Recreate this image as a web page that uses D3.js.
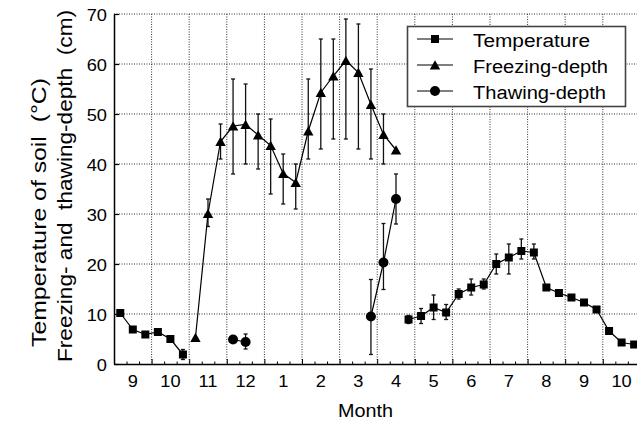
<!DOCTYPE html>
<html>
<head>
<meta charset="utf-8">
<script src="https://cdn.jsdelivr.net/npm/d3@7"></script>
<style>
  body { margin: 0; background: #fff; }
  svg { display: block; font-family: "Liberation Sans", Arial, sans-serif; }
</style>
</head>
<body>
<svg id="chart" width="637" height="421"></svg>
<script>
// month labels, starting in September (3 dekads per month)
const months = ["9", "10", "11", "12", "1", "2", "3", "4", "5", "6", "7", "8", "9", "10"];
const yTicks = [0, 10, 20, 30, 40, 50, 60, 70];

// soil temperature (°C), dekad index from 1st dekad of Sept
const tempDekad = [0, 1, 2, 3, 4, 5, 23, 24, 25, 26, 27, 28, 29, 30, 31, 32, 33, 34, 35, 36, 37, 38, 39, 40, 41];
const tempValue = [10.2, 6.9, 5.9, 6.4, 5.0, 1.9, 8.9, 9.6, 11.3, 10.3, 14.0, 15.3, 15.9, 20.0, 21.3, 22.6, 22.3, 15.3, 14.2, 13.3, 12.3, 10.9, 6.6, 4.3, 3.9];
const tempLow = [null, null, null, null, null, 0.9, 8.1, 8.1, 8.9, 8.9, 13, 13.8, 15, 18, 18, 21, 21, null, null, null, null, null, null, null, null];
const tempHigh = [null, null, null, null, null, 2.9, 9.7, 11.1, 13.8, 11.9, 15, 17, 17, 22, 24, 25, 24, null, null, null, null, null, null, null, null];

// freezing depth (cm)
const freezeDekad = [6, 7, 8, 9, 10, 11, 12, 13, 14, 15, 16, 17, 18, 19, 20, 21, 22];
const freezeValue = [5.3, 30.1, 44.5, 47.6, 47.9, 45.8, 43.7, 38.1, 36.3, 46.6, 54.3, 57.6, 60.7, 58.3, 51.9, 45.9, 42.8];
const freezeLow = [null, 27.5, 41, 38, 40, 39, 34, 32, 31, 41, 43, 45, 45, 43, 41, 40, null];
const freezeHigh = [null, 33, 48, 57, 56, 50, 49, 42, 40, 57, 65, 65, 69, 68, 59, 50, null];

// thawing depth (cm)
const thawDekad = [9, 10, 20, 21, 22];
const thawValue = [4.9, 4.4, 9.5, 20.3, 33];
const thawLow = [null, 3, 1.9, 14.9, 28];
const thawHigh = [null, 6, 16.9, 28.1, 38];

const svg = d3.select('#chart');
const W = 637, H = 421;
const plotLeft = 114, plotTop = 14, plotBottom = 364;
const monthW = 37.6;

svg.append('rect').attr('width', W).attr('height', H).attr('fill', '#fff');

const x = d3.scaleLinear().domain([0, months.length * 3]).range([plotLeft, plotLeft + months.length * monthW]);
const y = d3.scaleLinear().domain([0, 70]).range([plotBottom, plotTop]);
const band = d3.scaleBand().domain(d3.range(months.length)).range(x.range());

// grid
const grid = svg.append('g').attr('stroke', '#333').attr('stroke-width', 1).attr('stroke-dasharray', '1,1.5');
grid.selectAll('.vg')
    .data(d3.range(1, months.length + 1))
    .join('line')
    .attr('x1', (m) => x(m * 3)).attr('x2', (m) => x(m * 3))
    .attr('y1', plotTop).attr('y2', plotBottom);
grid.selectAll('.hg')
    .data(yTicks.slice(1))
    .join('line')
    .attr('x1', plotLeft).attr('x2', W)
    .attr('y1', (v) => y(v)).attr('y2', (v) => y(v));

const series = [
    { name: 'Temperature', dekad: tempDekad, value: tempValue, low: tempLow, high: tempHigh, symbol: 'square' },
    { name: 'Freezing-depth', dekad: freezeDekad, value: freezeValue, low: freezeLow, high: freezeHigh, symbol: 'triangle' },
    { name: 'Thawing-depth', dekad: thawDekad, value: thawValue, low: thawLow, high: thawHigh, symbol: 'circle' }
];

const toPoints = (s) => s.dekad.map((d, i) => ({ d, v: s.value[i], lo: s.low[i], hi: s.high[i] }));

// split into runs of consecutive dekads so gaps are not joined
const runs = (pts) => {
    const out = [];
    let cur = [];
    pts.forEach((p, i) => {
        if (i > 0 && p.d - pts[i - 1].d > 1) { out.push(cur); cur = []; }
        cur.push(p);
    });
    out.push(cur);
    return out;
};

const px = (p) => x(p.d + 0.5);

function drawMarker(g, kind, cx, cy) {
    if (kind === 'square') {
        g.append('rect').attr('x', cx - 4).attr('y', cy - 4).attr('width', 8).attr('height', 8).attr('fill', '#000');
    } else if (kind === 'triangle') {
        g.append('path').attr('d', `M${cx},${cy - 4.8}L${cx + 5.2},${cy + 4.4}L${cx - 5.2},${cy + 4.4}Z`).attr('fill', '#000');
    } else {
        g.append('circle').attr('cx', cx).attr('cy', cy).attr('r', 5).attr('fill', '#000');
    }
}

const line = d3.line().x(px).y((p) => y(p.v));
const plot = svg.append('g');

series.forEach((s) => {
    const pts = toPoints(s);

    // error bars
    const eb = plot.append('g').attr('stroke', '#111').attr('stroke-width', 1.3);
    pts.filter((p) => p.lo != null).forEach((p) => {
        const cx = px(p);
        eb.append('line').attr('x1', cx).attr('x2', cx).attr('y1', y(p.lo)).attr('y2', y(p.hi));
        eb.append('line').attr('x1', cx - 2).attr('x2', cx + 2).attr('y1', y(p.lo)).attr('y2', y(p.lo));
        eb.append('line').attr('x1', cx - 2).attr('x2', cx + 2).attr('y1', y(p.hi)).attr('y2', y(p.hi));
    });

    runs(pts).forEach((r) => {
        plot.append('path').attr('d', line(r)).attr('fill', 'none').attr('stroke', '#000').attr('stroke-width', 1.2);
    });

    const mg = plot.append('g');
    pts.forEach((p) => drawMarker(mg, s.symbol, px(p), y(p.v)));
});

// axes
const yAxis = svg.append('g')
    .attr('transform', `translate(${plotLeft},0)`)
    .call(d3.axisLeft(y).tickValues(yTicks).tickSizeInner(-5).tickSizeOuter(0).tickPadding(7));
yAxis.select('.domain').attr('stroke-width', 1.5);
yAxis.selectAll('.tick line').attr('stroke-width', 1.2);
yAxis.selectAll('text')
    .attr('x', null).attr('dy', null)
    .attr('transform', 'translate(-7,6) scale(1.14,1)')
    .attr('font-size', 16).attr('font-family', 'Liberation Sans, Arial, sans-serif').attr('fill', '#000');

const xAxis = svg.append('g')
    .attr('transform', `translate(0,${plotBottom})`)
    .call(d3.axisBottom(x).tickValues(d3.range(0, months.length * 3 + 1, 3)).tickSizeInner(-5).tickSizeOuter(0).tickFormat(''));
xAxis.select('.domain').attr('stroke-width', 1.5);
svg.append('g')
    .attr('transform', `translate(0,${plotBottom})`)
    .call(d3.axisBottom(x).tickValues(d3.range(0, months.length * 3).filter((d) => d % 3)).tickSizeInner(-2.5).tickSizeOuter(0).tickFormat(''))
    .select('.domain').remove();

const xLabels = svg.append('g').attr('font-size', 16).attr('fill', '#000');
months.forEach((m, i) => {
    xLabels.append('text')
        .attr('text-anchor', 'middle')
        .attr('transform', `translate(${band(i) + band.bandwidth() / 2},386.5) scale(1.14,1)`)
        .text(m);
});

svg.append('text')
    .attr('x', 338).attr('y', 417)
    .attr('font-size', 18.5)
    .attr('textLength', 55).attr('lengthAdjust', 'spacingAndGlyphs')
    .text('Month');

// y title, two lines
svg.append('text')
    .attr('transform', 'translate(46,347) rotate(-90)')
    .attr('font-size', 19.5)
    .attr('textLength', 269).attr('lengthAdjust', 'spacingAndGlyphs')
    .style('white-space', 'pre')
    .text('Temperature of soil  (°C)');
svg.append('text')
    .attr('transform', 'translate(72,362) rotate(-90)')
    .attr('font-size', 19.5)
    .attr('textLength', 352).attr('lengthAdjust', 'spacingAndGlyphs')
    .style('white-space', 'pre')
    .text('Freezing- and  thawing-depth  (cm)');

// legend
const lg = svg.append('g');
lg.append('rect')
    .attr('x', 407.5).attr('y', 26.5).attr('width', 218).attr('height', 80)
    .attr('fill', '#fff').attr('stroke', '#444').attr('stroke-width', 1.6);
const legLen = [117, 135, 133];
series.forEach((s, i) => {
    const cy = 39 + i * 26;
    lg.append('line').attr('x1', 417).attr('x2', 453).attr('y1', cy).attr('y2', cy).attr('stroke', '#000').attr('stroke-width', 1.2);
    drawMarker(lg, s.symbol, 435, cy);
    lg.append('text')
        .attr('x', 473).attr('y', cy + 7.8)
        .attr('font-size', 18)
        .attr('textLength', legLen[i]).attr('lengthAdjust', 'spacingAndGlyphs')
        .text(s.name);
});
</script>
</body>
</html>
